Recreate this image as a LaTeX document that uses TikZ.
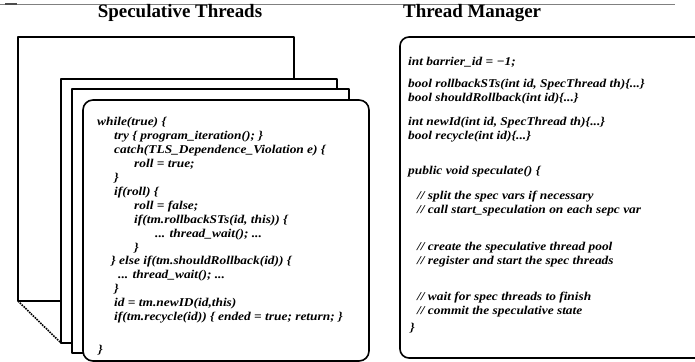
\documentclass[tikz,border=0pt]{standalone}
\usepackage{fontspec}
\setmainfont{Liberation Serif}
\newfontfamily\codefont[FakeStretch=1.12]{Liberation Serif}
\usepackage{tikz}
\usetikzlibrary{arrows,shapes}

\tikzset{
  frame/.style={draw=black,fill=white,line width=1.6bp},
  title/.style={font=\fontsize{19}{21}\selectfont\bfseries,inner sep=0pt},
  code/.style={font=\codefont\fontsize{12}{14}\selectfont\bfseries\itshape,align=left,inner sep=0pt,anchor=north west},
}
\newcommand{\ind}[1]{\hspace*{#1bp}}

\begin{document}
\begin{tikzpicture}[>=latex',line join=round]
\useasboundingbox (0bp,0bp) rectangle (695bp,362bp);
%%
\draw [gray,line width=0.8bp] (0bp,358bp) -- (675bp,358bp);
\draw [black!70,line width=1.4bp] (5bp,358bp) -- (17bp,358bp);
%%
\begin{scope}
  \node (Speculative Threads) at (180bp,349bp) [title] {Speculative Threads};
  \node (Thread Manager) at (403bp,349bp) [title,anchor=west] {Thread Manager};
\end{scope}
%% stacked thread frames
\begin{scope}
  \draw [frame] (18bp,325bp) rectangle (294bp,61bp);
  \draw [frame] (61bp,283bp) rectangle (337bp,19bp);
  \draw [frame] (72bp,273bp) rectangle (349bp,9bp);
  \draw [frame,rounded corners=10bp] (83bp,262bp) rectangle (369bp,1bp);
  \draw [line width=1.6bp,densely dotted] (18bp,61bp) -- (61bp,19bp);
  \draw [frame,rounded corners=9bp] (400bp,325bp) rectangle (712bp,4bp);
\end{scope}
%% code
\begin{scope}
  \node (loop code) at (97bp,245bp) [code] {while(true) \{\\
\ind{17}try \{ program\_iteration(); \}\\
\ind{17}catch(TLS\_Dependence\_Violation e) \{\\
\ind{37}roll = true;\\
\ind{17}\}\\
\ind{17}if(roll) \{\\
\ind{37}roll = false;\\
\ind{37}if(tm.rollbackSTs(id, this)) \{\\
\ind{58}... thread\_wait(); ...\\
\ind{37}\}\\
\ind{14}\} else if(tm.shouldRollback(id)) \{\\
\ind{21}... thread\_wait(); ...\\
\ind{17}\}\\
\ind{17}id = tm.newID(id,this)\\
\ind{17}if(tm.recycle(id)) \{ ended = true; return; \}\\[19bp]
\ind{1}\}};
  \node (manager code) at (408bp,305bp) [code] {int barrier\_id = −1;\\[8bp]
bool rollbackSTs(int id, SpecThread th)\{...\}\\
bool shouldRollback(int id)\{...\}\\[10bp]
int newId(int id, SpecThread th)\{...\}\\
bool recycle(int id)\{...\}\\[21bp]
public void speculate() \{\\[11bp]
\ind{9}// split the spec vars if necessary\\
\ind{9}// call start\_speculation on each sepc var\\[23bp]
\ind{9}// create the speculative thread pool\\
\ind{9}// register and start the spec threads\\[23bp]
\ind{9}// wait for spec threads to finish\\
\ind{9}// commit the speculative state\\[3bp]
\ind{2}\}};
\end{scope}
%
\end{tikzpicture}
\end{document}
